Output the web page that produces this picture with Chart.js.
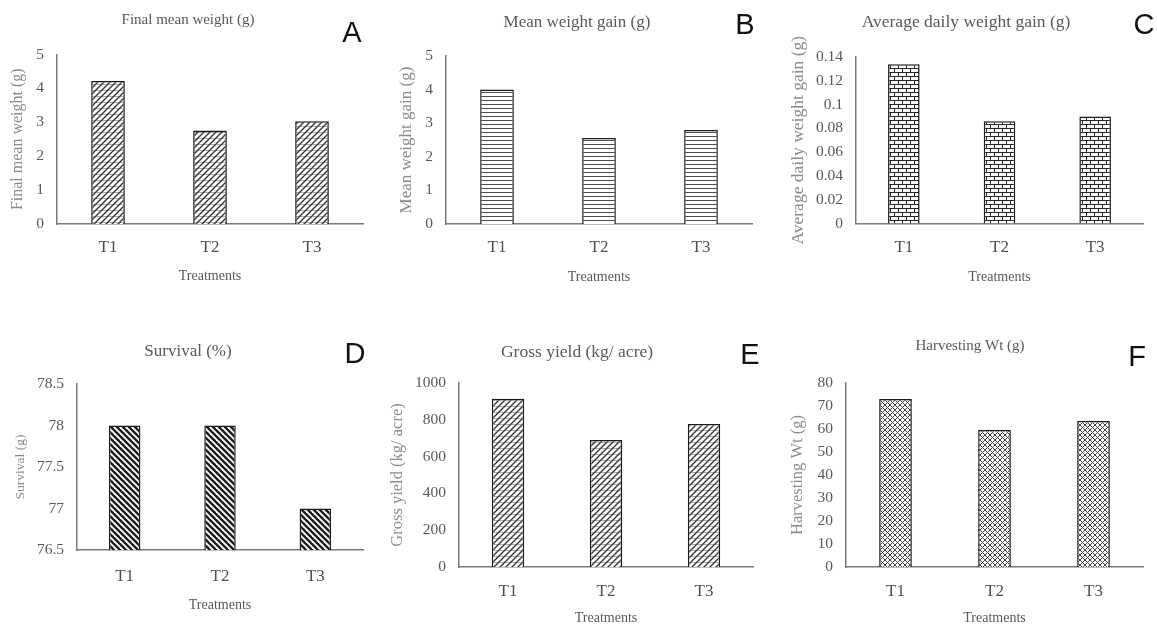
<!DOCTYPE html>
<html>
<head>
<meta charset="utf-8">
<script src="https://cdn.jsdelivr.net/npm/chart.js@4.4.1/dist/chart.umd.min.js"></script>
<style>
  body { margin: 0; background: #fff; width: 1157px; height: 629px; position: relative; overflow: hidden; }
  canvas { position: absolute; }
  .tag { position: absolute; font: 29px "Liberation Sans", Arial, sans-serif; color: #111; transform: translate(-50%, -50%); line-height: 1; }
</style>
</head>
<body>
<script>
// data
const treatments = ['T1', 'T2', 'T3'];
const finalMeanWeight = [4.22, 2.76, 3.03];
const meanWeightGain = [4.0, 2.56, 2.8];
const avgDailyGain = [0.134, 0.086, 0.09];
const survival = [78, 78, 77];
const grossYield = [915, 690, 777];
const harvestWt = [73, 59.6, 63.5];

// y axis ranges per panel (A..F)
const axisMin = [0, 0, 0, 76.5, 0, 0];
const axisMax = [5, 5, 0.14, 78.5, 1000, 80];
const axisStep = [1, 1, 0.02, 0.5, 200, 10];

const serif = '"Liberation Serif", "Times New Roman", serif';

// small hatch tiles, similar to the Excel pattern fills
function makePattern(kind) {
  const c = document.createElement('canvas');
  const s = kind === 'brick' ? 8 : kind === 'hlines' ? 4 : kind === 'diamond' ? 5 : 6;
  c.width = s; c.height = s;
  const g = c.getContext('2d');
  g.fillStyle = '#fff';
  g.fillRect(0, 0, s, s);
  if (kind === 'weave') {
    g.fillStyle = '#b0b0b0';
    g.fillRect(0, 0, s, 1);
    g.strokeStyle = '#3a3a3a';
    g.lineWidth = 1.4;
    for (const o of [-s, 0, s]) {
      g.beginPath(); g.moveTo(o - 1, s + 1); g.lineTo(o + s + 1, -1); g.stroke();
    }
  } else if (kind === 'hlines') {
    g.fillStyle = '#4d4d4d';
    g.fillRect(0, 0, s, 1);
  } else if (kind === 'brick') {
    g.fillStyle = '#262626';
    g.fillRect(0, 0, s, 1);
    g.fillRect(0, 4, s, 1);
    g.fillRect(0, 0, 1, 4);
    g.fillRect(4, 4, 1, 4);
  } else if (kind === 'back') {
    g.strokeStyle = '#1e1e1e';
    g.lineWidth = 2.4;
    for (const o of [-s, 0, s]) {
      g.beginPath(); g.moveTo(o - 1, -1); g.lineTo(o + s + 1, s + 1); g.stroke();
    }
  } else if (kind === 'diamond') {
    g.strokeStyle = '#444';
    g.lineWidth = 1;
    for (const o of [-s, 0, s]) {
      g.beginPath(); g.moveTo(o - 1, -1); g.lineTo(o + s + 1, s + 1); g.stroke();
      g.beginPath(); g.moveTo(o - 1, s + 1); g.lineTo(o + s + 1, -1); g.stroke();
    }
  }
  return g.createPattern(c, 'repeat');
}

const panels = [
  { tag: 'A', box: [0, 0, 385, 300], axisX: 57, right: 363, top: 54.5, bottom: 224, titleX: 188, titleY: 20, titleSize: 15,
    tickY: 248, xTitleY: 276, yTitleX: 18, yTitleSize: 16, title: 'Final mean weight (g)', yTitle: 'Final mean weight (g)',
    values: finalMeanWeight, pattern: 'weave', tagPos: [352, 32] },
  { tag: 'B', box: [385, 0, 385, 300], axisX: 446, right: 752, top: 56, bottom: 224, titleX: 577, titleY: 23, titleSize: 17,
    tickY: 248, xTitleY: 277, yTitleX: 407, yTitleSize: 17, title: 'Mean weight gain (g)', yTitle: 'Mean weight gain (g)',
    values: meanWeightGain, pattern: 'hlines', tagPos: [745, 24] },
  { tag: 'C', box: [770, 0, 387, 300], axisX: 856, right: 1143, top: 57, bottom: 223.5, titleX: 966, titleY: 22, titleSize: 17.5,
    tickY: 248, xTitleY: 277, yTitleX: 798, yTitleSize: 17.5, title: 'Average daily weight gain (g)', yTitle: 'Average daily weight gain (g)',
    values: avgDailyGain, pattern: 'brick', tagPos: [1144, 24] },
  { tag: 'D', box: [0, 310, 385, 319], axisX: 77, right: 363, top: 384, bottom: 550, titleX: 188, titleY: 352, titleSize: 17,
    tickY: 577, xTitleY: 605, yTitleX: 20, yTitleSize: 13.5, title: 'Survival (%)', yTitle: 'Survival (g)',
    values: survival, pattern: 'back', tagPos: [355, 353] },
  { tag: 'E', box: [385, 310, 385, 319], axisX: 459, right: 753, top: 383, bottom: 567, titleX: 577, titleY: 352, titleSize: 17.5,
    tickY: 592, xTitleY: 618, yTitleX: 398, yTitleSize: 16.5, title: 'Gross yield (kg/ acre)', yTitle: 'Gross yield (kg/ acre)',
    values: grossYield, pattern: 'weave', tagPos: [750, 354] },
  { tag: 'F', box: [770, 310, 387, 319], axisX: 846, right: 1143, top: 383, bottom: 567, titleX: 970, titleY: 346, titleSize: 15,
    tickY: 592, xTitleY: 618, yTitleX: 798, yTitleSize: 16.5, title: 'Harvesting Wt (g)', yTitle: 'Harvesting Wt (g)',
    values: harvestWt, pattern: 'diamond', tagPos: [1137, 356] },
];

panels.forEach((p, i) => {
  const [bx, by, bw, bh] = p.box;
  const canvas = document.createElement('canvas');
  canvas.width = bw; canvas.height = bh;
  canvas.style.left = bx + 'px';
  canvas.style.top = by + 'px';
  document.body.appendChild(canvas);

  const tag = document.createElement('div');
  tag.className = 'tag';
  tag.textContent = p.tag;
  tag.style.left = p.tagPos[0] + 'px';
  tag.style.top = p.tagPos[1] + 'px';
  document.body.appendChild(tag);

  // layout numbers so the plot area lands where it is in the figure
  const xTickSize = 17;
  const tickLH = xTickSize * 1.2;
  const titleLH = p.titleSize * 1.2;
  const xTitleLH = 14 * 1.2;
  const yTitleLH = p.yTitleSize * 1.2;
  const rightPad = bx + bw - p.right;
  const leftPad = 2 * (p.titleX - bx) - (p.right - bx);
  const titleTop = p.titleY - by - titleLH / 2;
  const titleBottom = p.top - by - titleTop - titleLH;
  const yWidth = p.axisX - bx - leftPad;
  const xHeight = by + bh - p.bottom;

  new Chart(canvas, {
    type: 'bar',
    data: {
      labels: treatments,
      datasets: [{
        data: p.values,
        backgroundColor: makePattern(p.pattern),
        borderColor: '#1a1a1a',
        borderWidth: 1.5,
        barPercentage: 0.33,
        categoryPercentage: 1,
      }],
    },
    options: {
      responsive: false,
      animation: false,
      devicePixelRatio: 1,
      layout: { autoPadding: false, padding: { left: leftPad, right: rightPad, top: 0, bottom: 0 } },
      plugins: {
        legend: { display: false },
        tooltip: { enabled: false },
        title: {
          display: true,
          text: p.title,
          color: '#595959',
          font: { family: serif, size: p.titleSize, weight: 'normal' },
          padding: { top: titleTop, bottom: titleBottom },
        },
      },
      scales: {
        x: {
          grid: { display: false, drawTicks: false },
          border: { display: true, color: '#7a7a7a', width: 1.5 },
          ticks: { color: '#505050', font: { family: serif, size: xTickSize }, padding: p.tickY - p.bottom - tickLH / 2 },
          title: {
            display: true, text: 'Treatments', color: '#595959',
            font: { family: serif, size: 14 },
            padding: { top: 0, bottom: by + bh - p.xTitleY - xTitleLH / 2 },
          },
          afterFit: (s) => { s.height = xHeight; },
        },
        y: {
          min: axisMin[i],
          max: axisMax[i],
          grid: { display: false, drawTicks: false },
          border: { display: true, color: '#7a7a7a', width: 1.5 },
          ticks: {
            stepSize: axisStep[i],
            autoSkip: false,
            color: '#595959',
            font: { family: serif, size: 15.5 },
            padding: 13,
            callback: (v) => String(parseFloat(Number(v).toFixed(3))),
          },
          title: {
            display: true, text: p.yTitle, color: '#8c8c8c',
            font: { family: serif, size: p.yTitleSize },
            padding: { top: p.yTitleX - bx - leftPad - yTitleLH / 2, bottom: 0 },
          },
          afterFit: (s) => { s.width = yWidth; },
        },
      },
    },
  });
});
</script>
</body>
</html>
